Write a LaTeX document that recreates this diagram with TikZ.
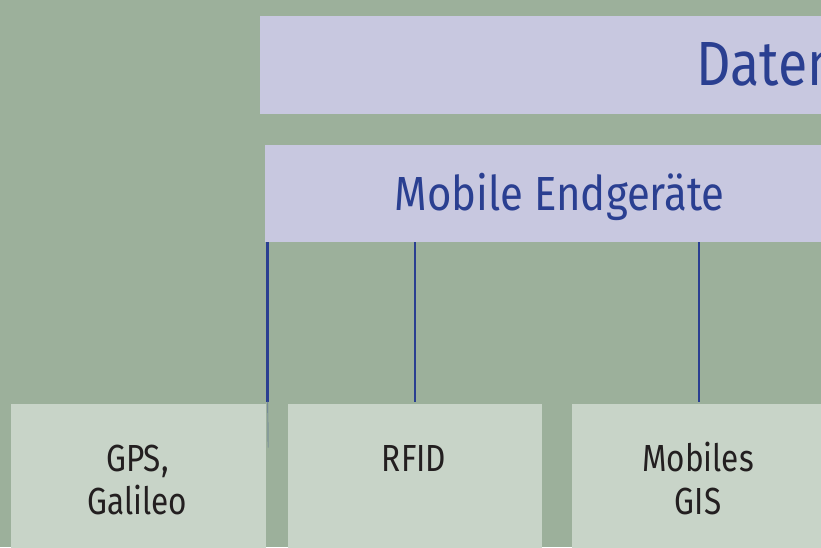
\documentclass[tikz,border=0pt]{standalone}
\usepackage{fontspec}
\setmainfont{Fira Sans}[FakeStretch=0.85]
\newfontfamily\fbig{Fira Sans}[FakeStretch=0.86]
\newfontfamily\fmid{Fira Sans}[FakeStretch=0.875]
\newfontfamily\fsmall{Fira Sans}[FakeStretch=0.835]
\definecolor{bgc}{RGB}{156,176,155}
\definecolor{lavc}{RGB}{200,200,224}
\definecolor{lightc}{RGB}{200,212,200}
\definecolor{bluec}{RGB}{42,63,145}
\definecolor{darkc}{RGB}{35,31,32}
\begin{document}
\begin{tikzpicture}[x=0.75pt,y=-0.75pt,
  lavbox/.style={fill=lavc, draw=none, inner sep=0pt, rectangle},
  lightbox/.style={fill=lightc, draw=none, inner sep=0pt, rectangle, minimum width=190.5pt, minimum height=117pt},
  conn/.style={draw=bluec, line width=2.1pt},
  thinconn/.style={draw=bluec!50!bgc, line width=0.5pt},
  bigtxt/.style={text=bluec, font=\fbig\fontsize{46.8pt}{56pt}\selectfont, inner sep=0pt},
  midtxt/.style={text=bluec, font=\fmid\fontsize{35.9pt}{43pt}\selectfont, inner sep=0pt},
  smalltxt/.style={text=darkc, font=\fsmall\fontsize{28.3pt}{32.25pt}\selectfont, inner sep=0pt, align=center}]
\useasboundingbox (0,0) rectangle (821,547);
\clip (0,0) rectangle (821,547);
\fill[bgc] (0,0) rectangle (821,547);
% boxes
\node[lavbox, minimum width=480pt, minimum height=73.5pt] (daten) at (580,65) {};
\node[lavbox, minimum width=476.25pt, minimum height=72.75pt] (mob) at (582.5,193.5) {};
\node[lightbox, minimum width=191.25pt] (gps) at (138.5,482) {};
\node[lightbox] (rfid) at (415,482) {};
\node[lightbox] (gis) at (699,482) {};
% texts
\node[bigtxt, anchor=base west] (datenT) at (696,85) {Daten};
\node[midtxt, anchor=base] (mobT) at (559.7,210) {Mobile Endgeräte};
\node[smalltxt, anchor=base] (gpsT) at (137.5,514) {GPS,\\Galileo};
\node[smalltxt, anchor=base] (rfidT) at (414,471) {RFID};
\node[smalltxt, anchor=base] (gisT) at (698,514) {Mobiles\\GIS};
% connectors
\coordinate (c1top) at ([xshift=1.1pt]mob.south -| gps.east);
\coordinate (c1bot) at ([xshift=1.1pt,yshift=1.5pt]gps.north east);
\coordinate (c1end) at ([xshift=1.4pt,yshift=-33pt]gps.north east);
\draw[conn] (c1top) -- (c1bot);
\draw[thinconn] (c1bot) -- (c1end);
\draw[conn] (mob.south -| rfid.north) -- ([yshift=1.5pt]rfid.north);
\draw[conn] (mob.south -| gis.north) -- ([yshift=1.5pt]gis.north);
\end{tikzpicture}
\end{document}
